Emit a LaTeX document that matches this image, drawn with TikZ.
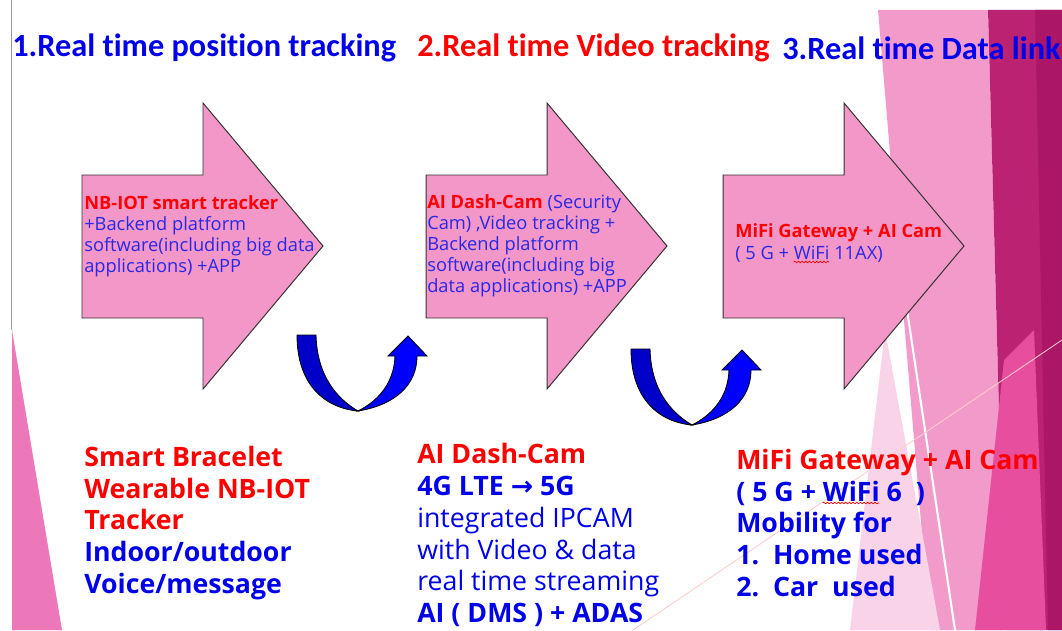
\documentclass[tikz,border=0pt]{standalone}
\usepackage{fontspec}
\setmainfont{Open Sans}
\newfontfamily\headfont[Ligatures=NoCommon]{Carlito}
\newfontfamily\symfont{DejaVu Sans}
\usetikzlibrary{positioning,decorations.pathmorphing}
\definecolor{arrowpink}{RGB}{243,150,200}
\definecolor{inblue}{RGB}{40,40,230}
\definecolor{textblue}{RGB}{0,0,235}
\definecolor{textred}{RGB}{255,0,0}
\definecolor{turndark}{RGB}{0,0,200}
\definecolor{turnblue}{RGB}{0,0,255}
\definecolor{facetlight}{RGB}{242,155,203}
\definecolor{facetdark}{RGB}{188,34,114}
\definecolor{facetdeep}{RGB}{172,22,102}
\definecolor{facethot}{RGB}{232,78,158}
\definecolor{facetpale}{RGB}{249,212,232}
\definecolor{wedgepink}{RGB}{236,120,186}
\newlength\wavegapa \newlength\wavewidea
\newlength\wavegapb \newlength\wavewideb
\begin{document}
\settowidth{\wavegapa}{\fontsize{13}{15}\selectfont ( 5 G + }
\settowidth{\wavewidea}{\fontsize{13}{15}\selectfont WiFi}
\settowidth{\wavegapb}{\fontsize{19}{22.7}\selectfont\bfseries ( 5 G + }
\settowidth{\wavewideb}{\fontsize{19}{22.7}\selectfont\bfseries WiFi}
\begin{tikzpicture}[x=0.025cm,y=-0.025cm]
		\tikzstyle{bigarrow} = [fill=arrowpink, draw=black!80, line width=0.7pt]
		\tikzstyle{headline} = [anchor=west, inner sep=0, font=\headfont\bfseries\fontsize{23}{26}\selectfont]
		\tikzstyle{intext} = [anchor=west, inner sep=0, align=left, text=inblue, font=\fontsize{13}{15}\selectfont]
		\tikzstyle{bigtext} = [anchor=west, inner sep=0, align=left, font=\fontsize{19}{22.7}\selectfont]
		\tikzstyle{boldtext} = [bigtext, font=\fontsize{19}{22.7}\selectfont\bfseries]
		\tikzstyle{turnleft} = [fill=turndark, draw=black, line width=0.6pt]
		\tikzstyle{turnright} = [fill=turnblue, draw=black, line width=0.6pt]
		\tikzstyle{squiggle} = [draw=red, line width=0.5pt, decorate, decoration={snake, amplitude=0.55pt, segment length=2.6pt}]
		\useasboundingbox (0,0) rectangle (1062,630);
		\fill[white] (0,0) rectangle (1062,630);
		% facets on the right
		\fill[facetlight] (878,10) -- (988,10) -- (1005,630) -- (930,630) -- cycle;
		\fill[facetpale] (885,330) -- (940,630) -- (850,630) -- cycle;
		\fill[facetdark] (988,10) -- (1062,10) -- (1062,630) -- (1005,630) -- cycle;
		\fill[facetdeep] (1035,10) -- (1062,10) -- (1062,630) -- (1048,630) -- cycle;
		\fill[facethot] (1004,360) -- (1034,330) -- (1046,630) -- (975,630) -- cycle;
		\draw[white, line width=1.5pt] (862,10) -- (955,630);
		\draw[pink!80!white, line width=0.6pt] (633,630) -- (1062,340);
		% left edge
		\draw[black!40, line width=0.6pt] (11,0) -- (11,330);
		\fill[wedgepink] (12,330) -- (62,630) -- (12,630) -- cycle;
		% titles
		\node [headline, text=textblue] (t1) at (12,48) {1.Real time position tracking};
		\node [headline, text=textred] (t2) at (417,48) {2.Real time Video tracking};
		\node [headline, text=textblue] (t3) at (782,48) {3.Real time Data link};
		% big arrows
		\foreach \x in {82,426,723}
		{
			\draw [bigarrow] (\x,175) -- (\x+121,175) -- (\x+121,103) -- (\x+241,246) -- (\x+121,389) -- (\x+121,318) -- (\x,318) -- cycle;
		}
		\node [intext] (a1) at (84,236) {\textcolor{textred}{\bfseries NB-IOT smart tracker}\\+Backend platform\\software(including big data\\applications) +APP};
		\node [intext] (a2) at (427,246) {\textcolor{textred}{\bfseries AI Dash-Cam} (Security\\Cam) ,Video tracking +\\Backend platform\\software(including big\\data applications) +APP};
		\node [intext] (a3) at (735,243) {\textcolor{textred}{\bfseries MiFi Gateway + AI Cam}\\( 5 G + WiFi 11AX)};
		% turning arrows
		\foreach \dx/\dy in {0/0,334/14}
		{
			\begin{scope}[shift={(\dx,\dy)}]
				\draw [turnleft] (297,335) .. controls (297,385) and (325,408) .. (358,411) .. controls (336,398) and (317,375) .. (316,335) -- cycle;
				\draw [turnright] (358,411) .. controls (395,405) and (417,385) .. (417,356) -- (427,356) -- (408,336) -- (388,356) -- (395,356) .. controls (394,385) and (376,402) .. (358,411) -- cycle;
			\end{scope}
		}
		% lower texts
		\node [boldtext] (b1) at (84,523) {\textcolor{textred}{Smart Bracelet}\\\textcolor{textred}{Wearable NB-IOT}\\\textcolor{textred}{Tracker}\\\textcolor{textblue}{Indoor/outdoor}\\\textcolor{textblue}{Voice/message}};
		\node [bigtext, text=textblue] (b2) at (417,535) {\textcolor{textred}{\bfseries AI Dash-Cam}\\\textbf{4G LTE {\symfont\bfseries →} 5G}\\integrated IPCAM\\with Video \& data\\real time streaming\\\textbf{AI ( DMS ) + ADAS}};
		\node [boldtext, text=textblue] (b3) at (736,523) {\textcolor{textred}{MiFi Gateway + AI Cam}\\( 5 G + WiFi 6~~)\\Mobility for\\1.~~Home used\\2.~~Car~~used};
		% spelling marks
		\coordinate (w1) at (735,262);
		\coordinate (w2) at (736,503);
		\draw [squiggle] ([xshift=\wavegapa]w1) -- ++(\wavewidea,0);
		\draw [squiggle] ([xshift=\wavegapb]w2) -- ++(\wavewideb,0);
\end{tikzpicture}
\end{document}
